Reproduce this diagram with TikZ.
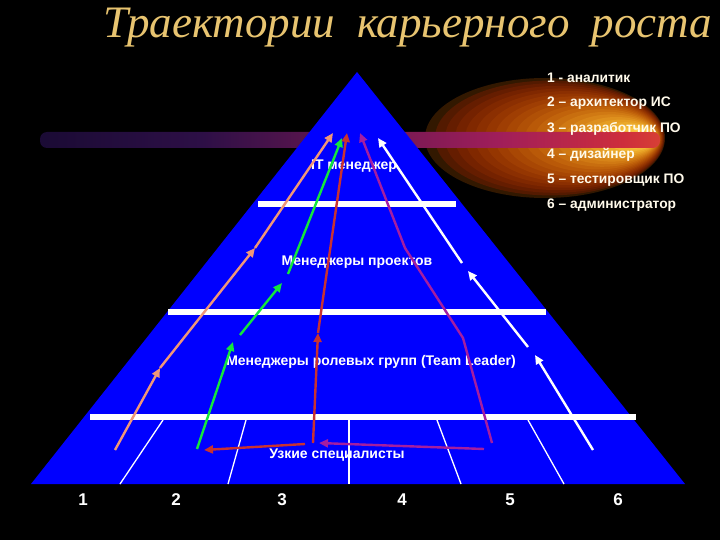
\documentclass[tikz,border=0pt]{standalone}
\usepackage{fontspec}
\setmainfont{Liberation Serif}
\setsansfont{Liberation Sans}
\usetikzlibrary{arrows.meta}
\definecolor{pyr}{RGB}{0,0,255}
\definecolor{titlegold}{RGB}{232,196,112}
\definecolor{corange}{RGB}{240,150,120}
\definecolor{cgreen}{RGB}{20,230,60}
\definecolor{cred}{RGB}{200,50,50}
\definecolor{cpurple}{RGB}{165,30,160}
\definecolor{legtext}{RGB}{255,250,235}
\definecolor{beamA}{RGB}{8,6,35}
\definecolor{beamB}{RGB}{45,15,70}
\definecolor{beamC}{RGB}{160,30,90}
\definecolor{beamD}{RGB}{205,45,60}
\definecolor{beamE}{RGB}{235,100,40}
\definecolor{beamF}{RGB}{248,170,45}
\definecolor{beamG}{RGB}{255,230,110}
\pgfdeclarehorizontalshading{beamshade}{100bp}{color(0bp)=(black); color(12bp)=(beamA); color(38bp)=(beamB); color(62bp)=(beamC); color(72bp)=(beamD); color(81bp)=(beamE); color(91bp)=(beamF); color(100bp)=(beamG)}
\tikzset{
  arr/.style={line width=2.4pt, -{Triangle[length=9pt,width=8pt]}},
  bar/.style={draw=white, line width=6.5pt},
  thin/.style={draw=white, line width=1.3pt},
  lbl/.style={text=white, font=\sffamily\bfseries\fontsize{14}{16}\selectfont, inner sep=0pt},
  leg/.style={text=legtext, font=\sffamily\bfseries\fontsize{13.8}{15}\selectfont, anchor=west, inner sep=0pt},
  num/.style={text=white, font=\sffamily\bfseries\fontsize{17}{19}\selectfont, inner sep=0pt}
}
\begin{document}
\begin{tikzpicture}[x=1pt,y=-1pt]
\useasboundingbox (0,0) rectangle (720,540);
\fill[black] (0,0) rectangle (720,540);
% glow
\foreach \i in {0,...,20}{
  \pgfmathsetmacro\t{\i/20}
  \pgfmathsetmacro\cx{545+95*\t}
  \pgfmathsetmacro\rx{120-105*\t}
  \pgfmathsetmacro\ry{60-52*\t}
  \pgfmathtruncatemacro\rr{50+205*(\t^0.6)}
  \pgfmathtruncatemacro\gg{24+186*(\t^1.5)}
  \pgfmathtruncatemacro\bb{70*(\t^3)}
  \fill[fill={rgb,255:red,\rr;green,\gg;blue,\bb}] (\cx,138) ellipse [x radius=\rx, y radius=\ry];
}
\shade[shading=beamshade, rounded corners=7pt] (40,132) rectangle (660,148);
% pyramid
\coordinate (apex) at (357,72);
\coordinate (bl) at (31,484);
\coordinate (br) at (685,484);
\fill[pyr] (apex) -- (bl) -- (br) -- cycle;
% bars
\coordinate (b1l) at (90,417); \coordinate (b1r) at (636,417);
\coordinate (b2l) at (168,312); \coordinate (b2r) at (546,312);
\coordinate (b3l) at (258,204); \coordinate (b3r) at (456,204);
\draw[bar] (b1l) -- (b1r);
\draw[bar] (b2l) -- (b2r);
\draw[bar] (b3l) -- (b3r);
% thin lines
\coordinate (t1a) at (163,420); \coordinate (t1b) at (120,484);
\coordinate (t2a) at (246,420); \coordinate (t2b) at (228,484);
\coordinate (t3a) at (349,420); \coordinate (t3b) at (349,484);
\coordinate (t4a) at (437,420); \coordinate (t4b) at (461,484);
\coordinate (t5a) at (528,420); \coordinate (t5b) at (564,484);
\draw[thin] (t1a) -- (t1b);
\draw[thin] (t2a) -- (t2b);
\draw[thin] (t3a) -- (t3b);
\draw[thin] (t4a) -- (t4b);
\draw[thin] (t5a) -- (t5b);
% level labels
\node[lbl] (itm) at (354,166) {IT менеджер};
\node[lbl] (pm) at (357,262) {Менеджеры проектов};
\node[lbl] (tl) at (371,362) {Менеджеры ролевых групп (Team Leader)};
\node[lbl] (spec) at (337,455) {Узкие специалисты};
% orange
\coordinate (o0) at (115,450); \coordinate (o1) at (160,368);
\coordinate (o2) at (255,248); \coordinate (o3) at (333,133);
\draw[arr,corange] (o0) -- (o1);
\draw[arr,corange] (o1) -- (o2);
\draw[arr,corange] (o2) -- (o3);
% green
\coordinate (g0) at (197,449); \coordinate (g1) at (233,342);
\coordinate (g2) at (240,335); \coordinate (g3) at (282,283);
\coordinate (g4) at (288,274); \coordinate (g5) at (342,138);
\draw[arr,cgreen] (g0) -- (g1);
\draw[arr,cgreen] (g2) -- (g3);
\draw[arr,cgreen] (g4) -- (g5);
% red
\coordinate (r0) at (313,443); \coordinate (r1) at (318,333); \coordinate (r2) at (347,133);
\draw[arr,cred] (r0) -- (r1);
\draw[arr,cred] (r1) -- (r2);
\coordinate (rh0) at (305,444); \coordinate (rh1) at (204,450);
\draw[arr,cred] (rh0) -- (rh1);
% purple
\coordinate (p0) at (492,443); \coordinate (p1) at (463,338);
\coordinate (p2) at (405,248); \coordinate (p3) at (360,133);
\draw[arr,cpurple,line join=round] (p0) -- (p1) -- (p2) -- (p3);
\coordinate (ph0) at (484,449); \coordinate (ph1) at (319,443);
\draw[arr,cpurple] (ph0) -- (ph1);
% white
\coordinate (w0) at (593,450); \coordinate (w1) at (535,355);
\coordinate (w2) at (528,347); \coordinate (w3) at (468,271);
\coordinate (w4) at (462,263); \coordinate (w5) at (378,138);
\draw[arr,white] (w0) -- (w1);
\draw[arr,white] (w2) -- (w3);
\draw[arr,white] (w4) -- (w5);
% legend
\node[leg] (l1) at (547,78) {1 - аналитик};
\node[leg] (l2) at (547,103) {2 – архитектор ИС};
\node[leg] (l3) at (547,129) {3 – разработчик ПО};
\node[leg] (l4) at (547,155) {4 – дизайнер};
\node[leg] (l5) at (547,180) {5 – тестировщик ПО};
\node[leg] (l6) at (547,205) {6 – администратор};
% numbers
\node[num] (n1) at (83,500) {1};
\node[num] (n2) at (176,500) {2};
\node[num] (n3) at (282,500) {3};
\node[num] (n4) at (402,500) {4};
\node[num] (n5) at (510,500) {5};
\node[num] (n6) at (618,500) {6};
% title
\node[anchor=base west, inner sep=0pt, text=titlegold, font=\itshape\fontsize{45}{45}\selectfont] (title) at (103,38) {Траектории\hspace{22pt}карьерного\hspace{22pt}роста};
\end{tikzpicture}
\end{document}
